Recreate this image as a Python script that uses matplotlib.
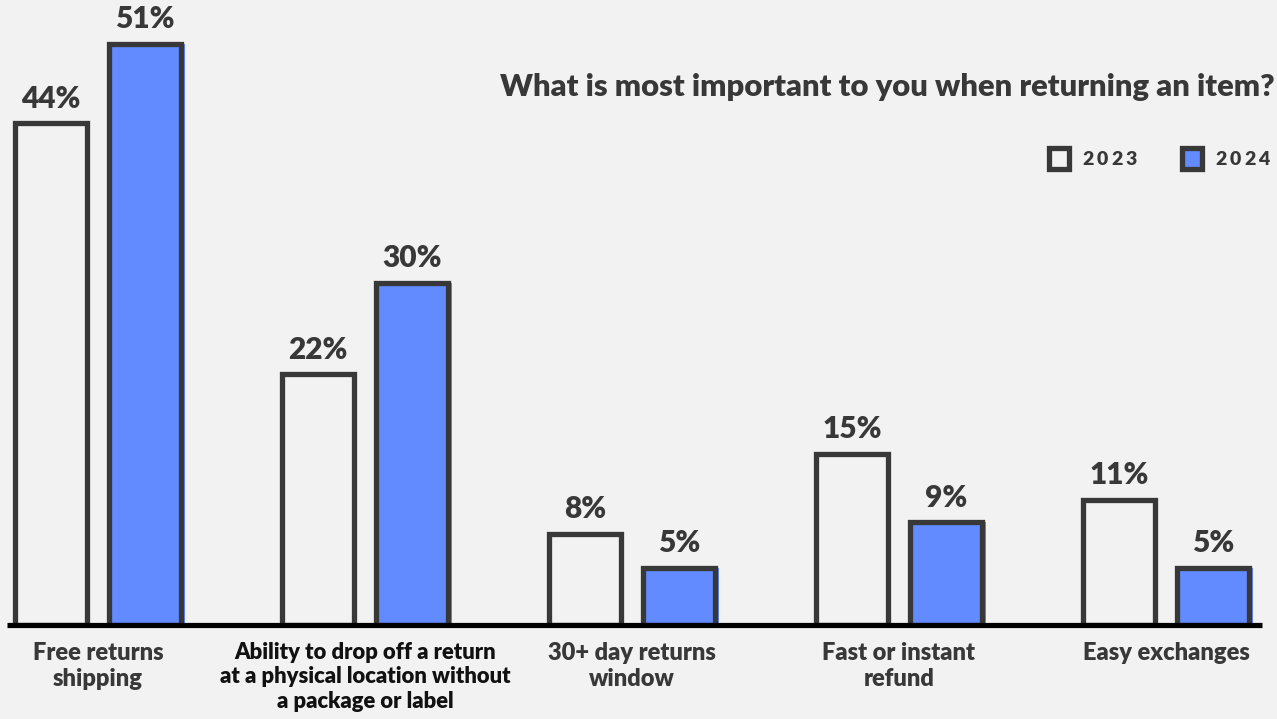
import matplotlib
matplotlib.use("Agg")
import matplotlib.pyplot as plt
import numpy as np
from matplotlib.patches import Rectangle

# ---------------- data ----------------
categories = [
    "Free returns\nshipping",
    "Ability to drop off a return\nat a physical location without\na package or label",
    "30+ day returns\nwindow",
    "Fast or instant\nrefund",
    "Easy exchanges",
]
vals_2023 = [44, 22, 8, 15, 11]
vals_2024 = [51, 30, 5, 9, 5]
series_names = ["2023", "2024"]
title = "What is most important to you when returning an item?"

# ---------------- style ----------------
BG = "#f2f2f2"
DARK = "#383838"
BLUE = "#628bff"
FONT = ["Lato", "DejaVu Sans"]
WEIGHT = "heavy"
plt.rcParams["font.family"] = FONT

W, H = 1277, 719
fig = plt.figure(figsize=(W / 100, H / 100), dpi=100)
fig.patch.set_facecolor(BG)

base_px = 625          # baseline position (px from top)
px_per_pct = 11.4
spacing = 267.0
first = 98.0

ax = fig.add_axes([0, (H - base_px) / H, 1, base_px / H])
ax.set_facecolor("none")
ax.set_ylim(0, base_px / px_per_pct)
ax.set_xlim(-first / spacing, (W - first) / spacing)
ax.axis("off")

x = np.arange(len(categories))
px = 1.0 / spacing
lw_px = 5.3
lw = lw_px * 72 / 100
bw = (78 - lw_px) * px
off = 47 * px
shift = 3.5 * px

# 2023: outline only
ax.bar(x - off, vals_2023, width=bw, facecolor="none", edgecolor=DARK,
       linewidth=lw, zorder=3)
# 2024: light strip + blue fill shifted right + outline
ax.bar(x + off, vals_2024, width=bw, facecolor="#ffffff", edgecolor="none", zorder=1)
ax.bar(x + off + shift, vals_2024, width=bw, facecolor=BLUE, edgecolor="none", zorder=2)
ax.bar(x + off, vals_2024, width=bw, facecolor="none", edgecolor=DARK,
       linewidth=lw, zorder=3)

# baseline
ax.plot([(7 - first) / spacing, (1262 - first) / spacing], [0, 0],
        color="#000000", linewidth=5.2 * 72 / 100, solid_capstyle="butt",
        zorder=4, clip_on=False)

# value labels
lab_off = (lw_px / 2 + 13) * 72 / 100
for xs, vals in ((x - off, vals_2023), (x + off, vals_2024)):
    for xi, v in zip(xs, vals):
        ax.annotate(f"{v}%", (xi, v), xytext=(0, lab_off), textcoords="offset points",
                    ha="center", va="baseline", fontsize=21.5, fontweight=WEIGHT,
                    color=DARK)

# category labels
for i, (xi, lab) in enumerate(zip(x, categories)):
    col = "#111111" if i == 1 else DARK
    fs = 15.8 if i == 1 else 17
    ax.annotate(lab, (xi, 0), xytext=(0, -17 * 0.72), textcoords="offset points",
                ha="center", va="top", fontsize=fs, fontweight=WEIGHT,
                color=col, linespacing=1.2, annotation_clip=False)

# title
fig.text(1275 / W, 1 - 96 / H, title, ha="right", va="baseline",
         fontsize=22.3, fontweight=WEIGHT, color=DARK)

# legend
leg_x = [1046, 1179]
leg_fc = ["none", BLUE]
for lx, fc, name in zip(leg_x, leg_fc, series_names):
    sq = Rectangle(((lx + 2.5) / W, 1 - (171 - 2.5) / H), 20 / W, 20 / H,
                   transform=fig.transFigure, facecolor=fc, edgecolor=DARK,
                   linewidth=lw, zorder=5)
    fig.patches.append(sq)
    cx = lx + 36
    for ch in name:
        fig.text(cx / W, 1 - 165 / H, ch, ha="left", va="baseline",
                 fontsize=14, fontweight=WEIGHT, color=DARK)
        cx += 14.5

fig.savefig("out.png", dpi=100, facecolor=BG)
